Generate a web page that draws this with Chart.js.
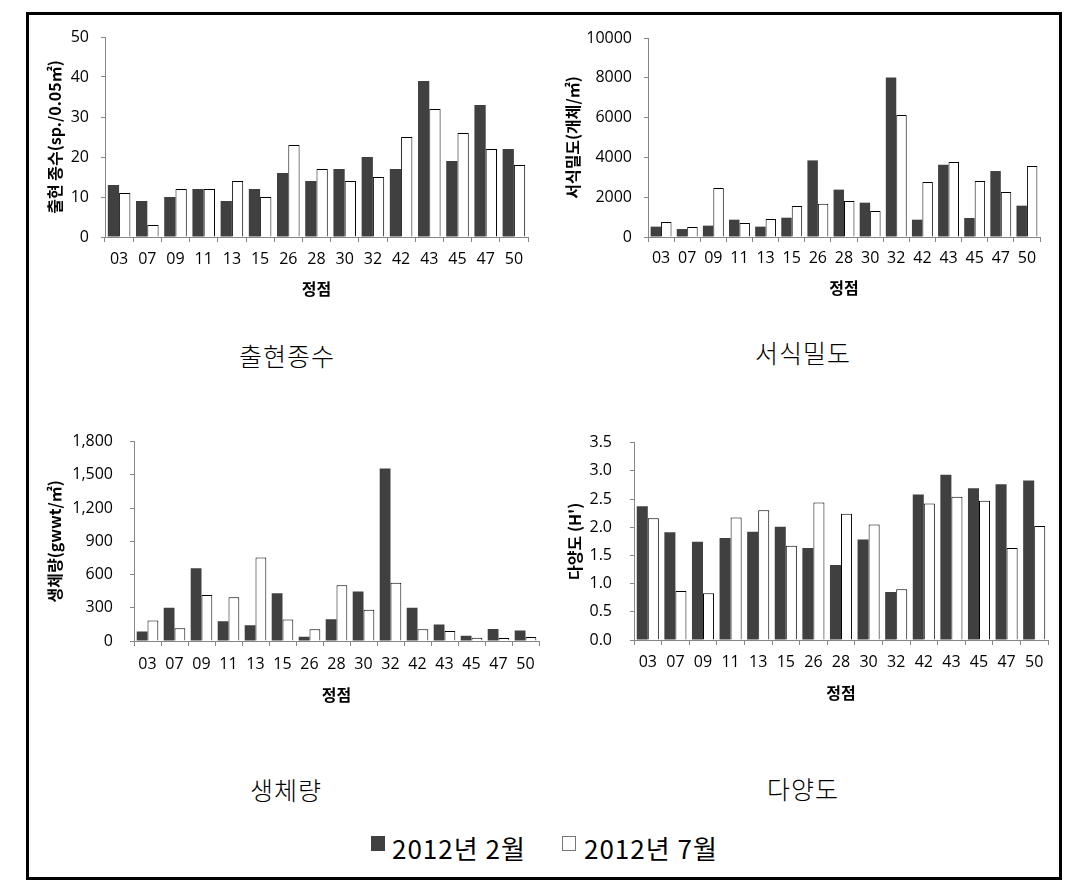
<!DOCTYPE html>
<html>
<head>
<meta charset="utf-8">
<script src="https://cdn.jsdelivr.net/npm/chart.js@4.4.1/dist/chart.umd.min.js"></script>
<style>
  body { margin: 0; background: #fff; width: 1092px; height: 885px; position: relative; overflow: hidden; }
  #frame { position: absolute; left: 26px; top: 12px; width: 1036px; height: 868px; border: 3px solid #000; box-sizing: border-box; }
  canvas { position: absolute; }
  .cap { position: absolute; font-family: 'Noto Sans CJK KR', sans-serif; font-weight: 300; font-size: 25px; color: #000; transform: translate(-50%, -50%); white-space: nowrap; letter-spacing: 1px; }
  .leg { position: absolute; font-family: 'Noto Sans CJK KR', sans-serif; font-size: 26px; letter-spacing: 1px; color: #000; white-space: nowrap; line-height: 1; }
  .box { position: absolute; width: 14px; height: 15px; box-sizing: border-box; }
</style>
</head>
<body>
<div id="frame"></div>
<canvas id="c1" width="515" height="295" style="left:30px;top:15px"></canvas>
<canvas id="c2" width="505" height="295" style="left:550px;top:15px"></canvas>
<canvas id="c3" width="520" height="295" style="left:30px;top:415px"></canvas>
<canvas id="c4" width="505" height="295" style="left:550px;top:415px"></canvas>

<div class="cap" style="left:287px;top:355px">출현종수</div>
<div class="cap" style="left:803px;top:352px">서식밀도</div>
<div class="cap" style="left:286px;top:789px">생체량</div>
<div class="cap" style="left:803px;top:788px">다양도</div>

<div class="box" style="left:371px;top:836px;background:#404040"></div>
<div class="leg" id="leg1" style="left:392px;top:835px"></div>
<div class="box" style="left:562px;top:836px;background:#fff;border:1px solid #777"></div>
<div class="leg" id="leg2" style="left:584px;top:835px"></div>

<script>
// 정점 (stations)
const stations = ['03', '07', '09', '11', '13', '15', '26', '28', '30', '32', '42', '43', '45', '47', '50'];
const seriesNames = ['2012년 2월', '2012년 7월'];

// 출현 종수 (sp./0.05㎡)
const speciesFeb = [13, 9, 10, 12, 9, 12, 16, 14, 17, 20, 17, 39, 19, 33, 22];
const speciesJul = [11, 3, 12, 12, 14, 10, 23, 17, 14, 15, 25, 32, 26, 22, 18];

// 서식밀도 (개체/㎡)
const densityFeb = [520, 400, 570, 870, 520, 970, 3850, 2380, 1725, 8010, 870, 3630, 955, 3315, 1575];
const densityJul = [750, 500, 2460, 700, 900, 1560, 1675, 1810, 1305, 6130, 2765, 3770, 2815, 2260, 3570];

// 생체량 (gwwt/㎡)
const biomassFeb = [85, 301, 657, 178, 143, 432, 38, 196, 447, 1558, 301, 149, 47, 108, 94];
const biomassJul = [184, 114, 415, 395, 754, 193, 105, 503, 281, 526, 105, 91, 29, 26, 35];

// 다양도 (H')
const diversityFeb = [2.37, 1.91, 1.74, 1.81, 1.92, 2.01, 1.63, 1.33, 1.78, 0.85, 2.58, 2.93, 2.69, 2.76, 2.83];
const diversityJul = [2.16, 0.87, 0.83, 2.17, 2.30, 1.67, 2.44, 2.24, 2.05, 0.90, 2.42, 2.54, 2.47, 1.63, 2.02];

document.getElementById('leg1').textContent = seriesNames[0];
document.getElementById('leg2').textContent = seriesNames[1];

const tickFont = { family: "'Open Sans', 'Noto Sans CJK KR', sans-serif", size: 16 };
const titleFont = { family: "'Noto Sans CJK KR', sans-serif", size: 16, weight: 'bold' };
const axisGray = '#868686';

// 그래프 하나 그리기
function drawPanel(id, feb, jul, yTitle, yMax, yStep, fmt, lay) {
    const ctx = document.getElementById(id).getContext('2d');
    return new Chart(ctx, {
        type: 'bar',
        data: {
            labels: stations,
            datasets: [{
                label: seriesNames[0],
                data: feb,
                backgroundColor: '#404040',
                borderWidth: 0,
                categoryPercentage: 0.8,
                barPercentage: 1.0
            }, {
                label: seriesNames[1],
                data: jul,
                backgroundColor: '#ffffff',
                borderColor: '#000000',
                borderWidth: 1,
                categoryPercentage: 0.8,
                barPercentage: 1.0
            }]
        },
        options: {
            responsive: false,
            animation: false,
            layout: { padding: { left: 0, top: lay.top, right: lay.right, bottom: 0 } },
            plugins: { legend: { display: false }, tooltip: { enabled: false } },
            scales: {
                x: {
                    grid: { display: true, drawOnChartArea: false, drawTicks: true, tickLength: 5, color: axisGray, offset: true },
                    border: { display: true, color: axisGray },
                    ticks: { color: '#000', font: tickFont, padding: lay.xPad, maxRotation: 0, autoSkip: false },
                    title: { display: true, text: '정점', color: '#000', font: titleFont, padding: { top: 0, bottom: lay.xTitlePad } },
                    afterFit: s => { s.height = lay.xHeight; }
                },
                y: {
                    min: 0,
                    max: yMax,
                    grid: { display: true, drawOnChartArea: false, drawTicks: true, tickLength: 4, color: axisGray },
                    border: { display: true, color: axisGray },
                    ticks: { color: '#000', font: tickFont, padding: lay.yPad, stepSize: yStep, callback: fmt },
                    title: { display: true, text: yTitle, color: '#000', font: titleFont, padding: { top: lay.yTitlePad, bottom: 0 } },
                    afterFit: s => { s.width = lay.yWidth; }
                }
            }
        }
    });
}

drawPanel('c1', speciesFeb, speciesJul, '출현 종수(sp./0.05㎡)', 50, 10, v => String(v),
    { top: 22, right: 17, yWidth: 75, xHeight: 73, xPad: 8, xTitlePad: 11, yPad: 12, yTitlePad: 15 });
drawPanel('c2', densityFeb, densityJul, '서식밀도(개체/㎡)', 10000, 2000, v => String(v),
    { top: 23, right: 15, yWidth: 98, xHeight: 73, xPad: 7, xTitlePad: 12, yPad: 12, yTitlePad: 13 });
drawPanel('c3', biomassFeb, biomassJul, '생체량(gwwt/㎡)', 1800, 300, v => v.toLocaleString('en-US'),
    { top: 21, right: 11, yWidth: 104, xHeight: 69, xPad: 9, xTitlePad: 5, yPad: 17, yTitlePad: 15 });
drawPanel('c4', diversityFeb, diversityJul, "다양도 (H')", 3.5, 0.5, v => v.toFixed(1),
    { top: 24, right: 7, yWidth: 84, xHeight: 70, xPad: 8, xTitlePad: 7, yPad: 18, yTitlePad: 15 });
</script>
</body>
</html>
